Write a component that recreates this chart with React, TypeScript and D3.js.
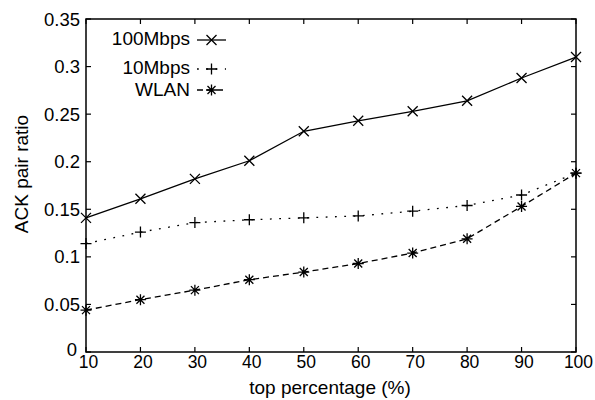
import React from "react";
import * as d3 from "d3";

// values
const percentages = [10, 20, 30, 40, 50, 60, 70, 80, 90, 100];
const mbps100 = [0.141, 0.161, 0.182, 0.201, 0.232, 0.243, 0.253, 0.264, 0.288, 0.31];
const mbps10 = [0.114, 0.126, 0.136, 0.139, 0.141, 0.143, 0.148, 0.154, 0.165, 0.188];
const wlan = [0.044, 0.055, 0.065, 0.076, 0.084, 0.093, 0.104, 0.119, 0.153, 0.188];
const yTicks = [0, 0.05, 0.1, 0.15, 0.2, 0.25, 0.3, 0.35];
const yTickLabels = ["0", "0.05", "0.1", "0.15", "0.2", "0.25", "0.3", "0.35"];
const seriesNames = ["100Mbps", "10Mbps", "WLAN"];

const W = 595;
const H = 400;
const margin = { top: 19, right: 19, bottom: 48, left: 86 };
const font = "'Liberation Sans', Arial, Helvetica, sans-serif";

// marker shapes, like matlab's x, + and *
const markerPath = (kind: string) => {
  if (kind === "x") return "M-5,-5L5,5M-5,5L5,-5";
  if (kind === "+") return "M-5.5,0H5.5M0,-5.5V5.5";
  return "M-5.5,0H5.5M0,-5.5V5.5M-4,-4L4,4M-4,4L4,-4";
};

const App = () => {
  const x = d3.scaleLinear().domain([10, 100]).range([margin.left, W - margin.right]);
  const y = d3.scaleLinear().domain([0, 0.35]).range([H - margin.bottom, margin.top]);

  const series = [
    { name: seriesNames[0], values: mbps100, marker: "x", dash: "none" },
    { name: seriesNames[1], values: mbps10, marker: "+", dash: "1.8,7.5" },
    { name: seriesNames[2], values: wlan, marker: "*", dash: "6,4" },
  ];

  const line = d3
    .line<number>()
    .x((d, i) => x(percentages[i]))
    .y((d) => y(d));

  const x0 = x(10);
  const x1 = x(100);
  const y0 = y(0);
  const y1 = y(0.35);
  const tickLen = 5;

  // legend rows (text baseline, marker centre)
  const legendRows = [
    { base: 45, mid: 40 },
    { base: 74, mid: 69 },
    { base: 96, mid: 90 },
  ];

  return (
    <svg
      width={W}
      height={H}
      style={{ position: "absolute", left: 0, top: 0, background: "#fff" }}
      fontFamily={font}
    >
      <rect width={W} height={H} fill="#fff" />

      {/* ticks on all four sides, pointing inward */}
      {percentages.map((p) => (
        <g key={"xt" + p} stroke="#000" strokeWidth={1.2}>
          <line x1={x(p)} x2={x(p)} y1={y0} y2={y0 - tickLen} />
          <line x1={x(p)} x2={x(p)} y1={y1} y2={y1 + tickLen} />
        </g>
      ))}
      {yTicks.map((t) => (
        <g key={"yt" + t} stroke="#000" strokeWidth={1.2}>
          <line x1={x0} x2={x0 + tickLen} y1={y(t)} y2={y(t)} />
          <line x1={x1} x2={x1 - tickLen} y1={y(t)} y2={y(t)} />
        </g>
      ))}

      {/* lines and markers */}
      {series.map((s) => (
        <g key={s.name}>
          <path
            d={line(s.values) || ""}
            fill="none"
            stroke="#000"
            strokeWidth={1.3}
            strokeDasharray={s.dash}
          />
          {s.values.map((v, i) => (
            <path
              key={i}
              d={markerPath(s.marker)}
              transform={`translate(${x(percentages[i])},${y(v)})`}
              stroke="#000"
              strokeWidth={1.3}
              fill="none"
            />
          ))}
        </g>
      ))}

      {/* axes box */}
      <rect x={x0} y={y1} width={x1 - x0} height={y0 - y1} fill="none" stroke="#000" strokeWidth={1.5} />

      {/* tick labels */}
      {percentages.map((p) => (
        <text key={"xl" + p} x={x(p) + 2.5} y={368} textAnchor="middle" fontSize={17.5}>
          {p}
        </text>
      ))}
      {yTicks.map((t, i) => (
        <text
          key={"yl" + t}
          x={t === 0 ? x0 - 9 : x0 - 6}
          y={t === 0 ? y(t) + 4 : y(t) + 6.5}
          textAnchor="end"
          fontSize={18.5}
        >
          {yTickLabels[i]}
        </text>
      ))}

      {/* axis labels */}
      <text x={330} y={394} textAnchor="middle" fontSize={19}>
        top percentage (%)
      </text>
      <text transform="translate(28,174) rotate(-90)" textAnchor="middle" fontSize={19}>
        ACK pair ratio
      </text>

      {/* legend */}
      {series.map((s, i) => (
        <g key={"lg" + s.name}>
          <text x={190} y={legendRows[i].base} textAnchor="end" fontSize={19}>
            {s.name}
          </text>
          <line
            x1={197}
            x2={226}
            y1={legendRows[i].mid}
            y2={legendRows[i].mid}
            stroke="#000"
            strokeWidth={1.3}
            strokeDasharray={s.dash}
          />
          <path
            d={markerPath(s.marker)}
            transform={`translate(211.5,${legendRows[i].mid})`}
            stroke="#000"
            strokeWidth={1.3}
            fill="none"
          />
        </g>
      ))}
    </svg>
  );
};

export default App;
